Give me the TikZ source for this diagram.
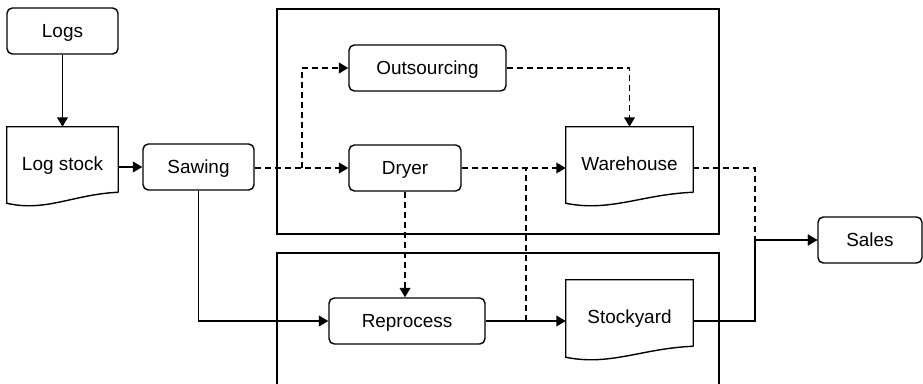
\documentclass[tikz,border=0pt]{standalone}
\usepackage{fontspec}
\setmainfont{Liberation Sans}
\usetikzlibrary{arrows.meta,calc}

\tikzset{
  box/.style={draw, rounded corners=4pt, line width=1.05pt, minimum height=46*0.75pt,
    font=\fontsize{14.2pt}{17pt}\selectfont, inner sep=0pt, text height=11.5pt, text depth=2pt},
  docbox/.style={minimum height=65*0.75pt, inner sep=0pt, text height=16pt, text depth=0pt,
    font=\fontsize{14.2pt}{17pt}\selectfont},
  flow/.style={line width=1.05pt, -{Triangle[length=7pt,width=8pt]}},
  flowdash/.style={flow, dash pattern=on 4.5pt off 3pt},
  frame/.style={draw, line width=0.9pt}
}

\begin{document}
\begin{tikzpicture}[x=0.75pt,y=-0.75pt]
    \useasboundingbox (0,0) rectangle (923,384);
    \clip (0,0) rectangle (923,384);
    % the two areas
    \draw[frame] (277,9) rectangle (719,234);
    \draw[frame] (277,253) rectangle (719,400);
    % steps
    \node[box, minimum width=111*0.75pt] (logs) at (62.5,31) {Logs};
    \node[docbox, minimum width=111*0.75pt] (logstock) at (62.5,159.5) {Log stock};
    \node[box, minimum width=111*0.75pt] (sawing) at (198.5,167) {Sawing};
    \node[box, minimum width=157*0.75pt] (outsourcing) at (427.5,68) {Outsourcing};
    \node[box, minimum width=112*0.75pt] (dryer) at (405,168) {Dryer};
    \node[docbox, minimum width=127*0.75pt] (warehouse) at (629.5,159.5) {Warehouse};
    \node[box, minimum width=156*0.75pt] (reprocess) at (407,321) {Reprocess};
    \node[docbox, minimum width=127*0.75pt, minimum height=66*0.75pt] (stockyard) at (629.5,313) {Stockyard};
    \node[box, minimum width=104*0.75pt] (sales) at (870,240) {Sales};
    % document outlines
    \foreach \n in {logstock,warehouse,stockyard}
      \draw[line width=1.05pt] (\n.south east) -- (\n.north east) -- (\n.north west)
        -- ($(\n.south west)+(0,11)$)
        .. controls ($(\n.south west)!0.35!(\n.south east)+(0,20)$)
        and ($(\n.south west)!0.6!(\n.south east)+(0,2)$) .. (\n.south east);
    \coordinate (split) at (302,168);
    \coordinate (rjog) at (526,321);
    \coordinate (merge) at (755,240);
    % connectors
    \draw[flow] (logs) -- (logstock);
    \draw[flow] (logstock.east |- sawing) -- (sawing.west);
    \draw[flowdash] (sawing.east |- dryer) -- (dryer.west);
    \draw[flowdash] (split) |- (outsourcing.west);
    \draw[flowdash] (outsourcing.east) -| (warehouse.north);
    \draw[flowdash] (dryer.east) -- (dryer.east -| warehouse.west);
    \draw[flowdash] (dryer.south) -- (dryer.south |- reprocess.north);
    \draw[flow] (sawing.south) |- (reprocess.west);
    \draw[flow] (reprocess.east) -- (reprocess.east -| stockyard.west);
    \draw[flowdash, -] (reprocess.east) -- (rjog) -- (rjog |- dryer);
    \draw[flowdash] (dryer -| warehouse.east) -| (merge) -- (sales.west);
    \draw[flow] (reprocess -| stockyard.east) -| (merge) -- (sales.west);
\end{tikzpicture}
\end{document}
